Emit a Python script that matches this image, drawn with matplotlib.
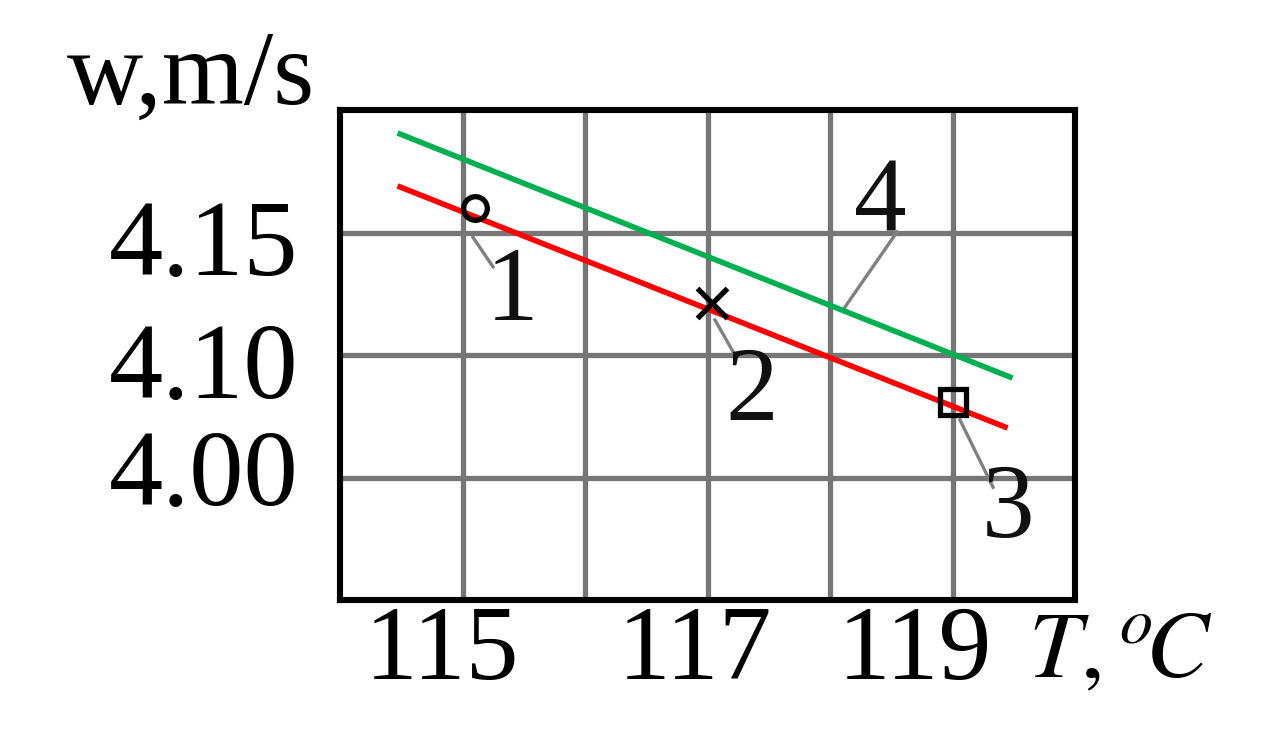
import matplotlib
matplotlib.use("Agg")
import matplotlib.pyplot as plt
import matplotlib.transforms as mtransforms

plt.rcParams['font.family'] = ['Liberation Serif', 'DejaVu Serif']
plt.rcParams['mathtext.fontset'] = 'stix'

# ---- data ----
temps_green = [114.47, 119.49]
w_green = [4.1906, 4.0906]
temps_red = [114.47, 119.45]
w_red = [4.169, 4.0702]

point_labels = ['1', '2', '3']
point_T = [115.10, 117.04, 119.00]
point_w = [4.160, 4.1212, 4.0808]
point_markers = ['o', 'x', 's']

x_major = [115, 117, 119]
x_minor = [116, 118]
x_ticklabels = ['115', '117', '119']
y_ticks = [4.05, 4.10, 4.15]
y_ticklabels = ['4.00', '4.10', '4.15']

# leader lines: (start T, start w), (end T, end w), label text position
leader_labels = ['1', '2', '3', '4']
leader_start = [(115.086, 4.148), (117.061, 4.1143), (119.061, 4.0735), (118.106, 4.1184)]
leader_end = [(115.249, 4.136), (117.224, 4.100), (119.331, 4.046), (118.547, 4.1502)]
label_pos = [(115.404, 4.1245), (117.363, 4.0837), (119.453, 4.0359), (118.408, 4.1612)]

fig = plt.figure(figsize=(12.62, 7.53), dpi=100)
ax = fig.add_axes([340/1262, 153/753, 735/1262, 490/753])

ax.set_xlim(114, 120)
ax.set_ylim(4.00, 4.20)

ax.set_xticks(x_major)
ax.set_xticklabels(x_ticklabels)
ax.set_xticks(x_minor, minor=True)
ax.set_yticks(y_ticks)
ax.set_yticklabels(y_ticklabels)

ax.grid(True, which='both', color='#767676', linewidth=3.8, zorder=0)
ax.set_axisbelow(True)
ax.tick_params(axis='both', which='both', length=0)
ax.tick_params(axis='x', labelsize=76, pad=4)
ax.tick_params(axis='y', labelsize=78, pad=30)
for sp in ax.spines.values():
    sp.set_linewidth(4.4)
    sp.set_color('black')

# shift tick labels slightly like the reference
x_offsets_px = [-21, -13, -38]
for lab, off in zip(ax.get_xticklabels(), x_offsets_px):
    lab.set_transform(lab.get_transform() + mtransforms.ScaledTranslation(off/100, 0, fig.dpi_scale_trans))
y_offsets_px = [10, -5, -5]
for lab, off in zip(ax.get_yticklabels(), y_offsets_px):
    lab.set_transform(lab.get_transform() + mtransforms.ScaledTranslation(0, off/100, fig.dpi_scale_trans))

ax.plot(temps_green, w_green, color='#00b050', linewidth=4.0, solid_capstyle='butt', zorder=3)
ax.plot(temps_red, w_red, color='#ff0000', linewidth=4.0, solid_capstyle='butt', zorder=3)

sizes = [17, 21, 19]
for T, w, m, s in zip(point_T, point_w, point_markers, sizes):
    if m == 'x':
        ax.plot([T], [w], marker=m, markersize=s, color='black', mew=3.8, linestyle='none', zorder=4)
    else:
        ax.plot([T], [w], marker=m, markersize=s, markerfacecolor='none', markeredgecolor='black',
                mew=3.8, linestyle='none', zorder=4)

for lab, st, en, pos in zip(leader_labels, leader_start, leader_end, label_pos):
    ax.plot([st[0], en[0]], [st[1], en[1]], color='#808080', linewidth=2.4, zorder=2)
    ax.text(pos[0], pos[1], lab, fontsize=76, ha='center', va='center', color='#111111', zorder=5)

# axis titles
fig.text(315/1262, 1 - 104/753, 'w,m/s', fontsize=76, ha='right', va='baseline')
ax.text((1028-340)/735, -0.025, r'$T,^{o}\!C$', transform=ax.transAxes, fontsize=68,
        ha='left', va='top')

fig.savefig('out.png', dpi=100)
